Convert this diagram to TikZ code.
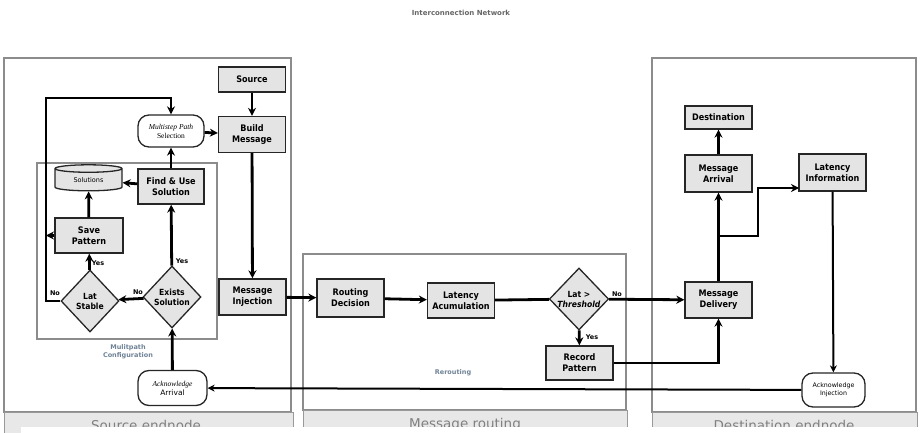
\documentclass[tikz,border=0pt]{standalone}
\usepackage{fontspec}
\setmainfont{DejaVu Sans}
\newfontfamily\serifff{Liberation Serif}
\newfontfamily\condff{DejaVu Sans Condensed}
\usetikzlibrary{shapes.geometric,arrows.meta}
\definecolor{boxfill}{HTML}{E4E4E4}
\definecolor{bandfill}{HTML}{E8E8E8}
\definecolor{panelline}{HTML}{8C8C8C}
\definecolor{bandtext}{HTML}{808080}
\definecolor{labblue}{HTML}{6F8296}
\begin{document}
\begin{tikzpicture}[x=1pt,y=-1pt,
  box/.style={draw=black!85, line width=1.3pt, fill=boxfill, minimum width=67pt, minimum height=36pt, inner sep=1pt, align=center, font=\condff\fontsize{9}{11}\selectfont\bfseries},
  roundbox/.style={draw=black!85, line width=1.3pt, fill=white, rounded corners=11pt, inner sep=1pt, align=center, font=\fontsize{7.5}{9}\selectfont},
  dia/.style={diamond, draw=black!85, fill=boxfill, line width=1.3pt, inner sep=0pt, minimum width=58pt, minimum height=62pt, align=center, font=\condff\fontsize{8.5}{10}\selectfont\bfseries},
  arr/.style={line width=2.8pt, -{Stealth[length=8pt,width=8pt]}},
  ln/.style={line width=2.8pt},
  panel/.style={draw=panelline, line width=1.8pt},
  band/.style={draw=black!40, fill=bandfill, line width=1pt},
  bandlab/.style={text=bandtext, font=\fontsize{13.5}{15}\selectfont},
  lab/.style={font=\fontsize{6.5}{7}\selectfont\bfseries, inner sep=0pt},
  grplab/.style={text=labblue, font=\fontsize{6.5}{8}\selectfont\bfseries, align=center, inner sep=0pt}
]
\useasboundingbox (0,0) rectangle (922,433);
% title
\node[text=black!60, font=\fontsize{7}{8}\selectfont\bfseries] (title) at (461,13) {Interconnection Network};
% panels
\draw[panel] (4,58) rectangle (291,412);
\draw[band] (4,412) rectangle (293,440);
\node[bandlab] (srclab) at (146,425) {Source endnode};
\draw[panel] (303,254) rectangle (626,410);
\draw[band] (303,410) rectangle (627,440);
\node[bandlab] (routlab) at (465,425) {Message routing};
\draw[panel] (652,58) rectangle (916,412);
\draw[band] (652,412) rectangle (917,440);
\node[bandlab] (dstlab) at (784,425) {Destination endnode};
\fill[white] (21,426.5) rectangle (922,440);
% multipath group
\draw[draw=panelline, line width=1.6pt] (37,163) rectangle (217,339);
\node[grplab] (mpc) at (128,352) {Mulitpath\\Configuration};
\node[grplab] (rer) at (453,373) {Rerouting};
% source side nodes
\node[box, minimum height=25pt] (src) at (252,79.5) {Source};
\node[box] (build) at (252,134.5) {Build\\Message};
\node[roundbox, minimum width=66pt, minimum height=32pt] (msps) at (171,131) {{\serifff\itshape Multistep Path}\\{\serifff Selection}};
\node[box, minimum width=66pt, minimum height=35pt] (find) at (171,186.5) {Find \& Use\\Solution};
\node[cylinder, shape border rotate=90, aspect=0.25, draw=black!85, line width=1.3pt, fill=boxfill, minimum width=67pt, minimum height=26pt, inner sep=0pt, font=\fontsize{6.5}{7}\selectfont] (sol) at (88.5,180) {Solutions};
\node[box, minimum width=68pt, minimum height=35pt] (save) at (89,235.5) {Save\\Pattern};
\node[dia] (stable) at (90,301) {Lat\\Stable};
\node[dia] (exists) at (172,297) {Exists\\Solution};
\node[box] (inj) at (252.5,297) {Message\\Injection};
\node[roundbox, minimum width=69pt, minimum height=35pt] (ackarr) at (172.5,388) {{\serifff\itshape Acknowledge}\\Arrival};
% routing nodes
\node[box, minimum height=38pt] (route) at (350.5,298) {Routing\\Decision};
\node[box, minimum height=35pt] (lat) at (461,300.5) {Latency\\Acumulation};
\node[dia, minimum width=56pt] (thr) at (579,299) {Lat >\\\textit{Threshold}};
\node[box, minimum height=34pt] (rec) at (579.5,363) {Record\\Pattern};
% destination nodes
\node[box] (deliv) at (718.5,300) {Message\\Delivery};
\node[box, minimum height=37pt] (marr) at (718.5,173.5) {Message\\Arrival};
\node[box, minimum height=23pt] (dest) at (718.5,117.5) {Destination};
\node[box, minimum height=37pt] (latinfo) at (832.5,172.5) {Latency\\Information};
\node[roundbox, minimum width=63pt, minimum height=34pt, font=\fontsize{6.3}{8}\selectfont] (ackinj) at (833.5,390) {Acknowledge\\Injection};
% coordinates
\coordinate (loopA) at (46,301);
\coordinate (loopB) at (46,98);
\coordinate (loopC) at (171,98);
\coordinate (loopS) at (46,235.5);
\coordinate (brA) at (718.5,236);
\coordinate (brB) at (758,236);
\coordinate (brC) at (758,188);
\coordinate (brD) at (799,188);
% connectors
\draw[arr] (src) -- (build);
\draw[arr] (msps) -- (build);
\draw[arr] (build) -- (inj);
\draw[arr] (inj) -- (route);
\draw[arr] (route) -- (lat);
\draw[ln] (lat) -- (thr);
\draw[arr] (thr) -- (deliv);
\draw[arr] (thr) -- (rec);
\draw[arr] (rec) -| (deliv);
\draw[arr] (deliv) -- (marr);
\draw[arr] (brA) -- (brB) -- (brC) -- (brD);
\draw[arr] (marr) -- (dest);
\draw[ln, line width=2pt, -{Stealth[length=7pt,width=7pt]}] (latinfo) -- (ackinj);
\draw[ln, line width=2pt, -{Stealth[length=7pt,width=7pt]}] (ackinj) -- (ackarr);
\draw[arr] (ackarr) -- (exists);
\draw[arr] (exists) -- (find);
\draw[arr] (exists) -- (stable);
\draw[arr] (stable) -- (save);
\draw[arr] (stable.west) -- (loopA) -- (loopB) -- (loopC) -- (msps.north);
\draw[arr] (save.west) -- (loopS);
\draw[arr] (save) -- (sol);
\draw[arr] (find) -- (sol);
\draw[arr] (find) -- (msps);
% labels
\node[lab] (l1) at (55,293) {No};
\node[lab] (l2) at (138,292) {No};
\node[lab] (l3) at (98,263) {Yes};
\node[lab] (l4) at (182,261) {Yes};
\node[lab] (l5) at (617,294) {No};
\node[lab] (l6) at (592,337) {Yes};
\end{tikzpicture}
\end{document}
